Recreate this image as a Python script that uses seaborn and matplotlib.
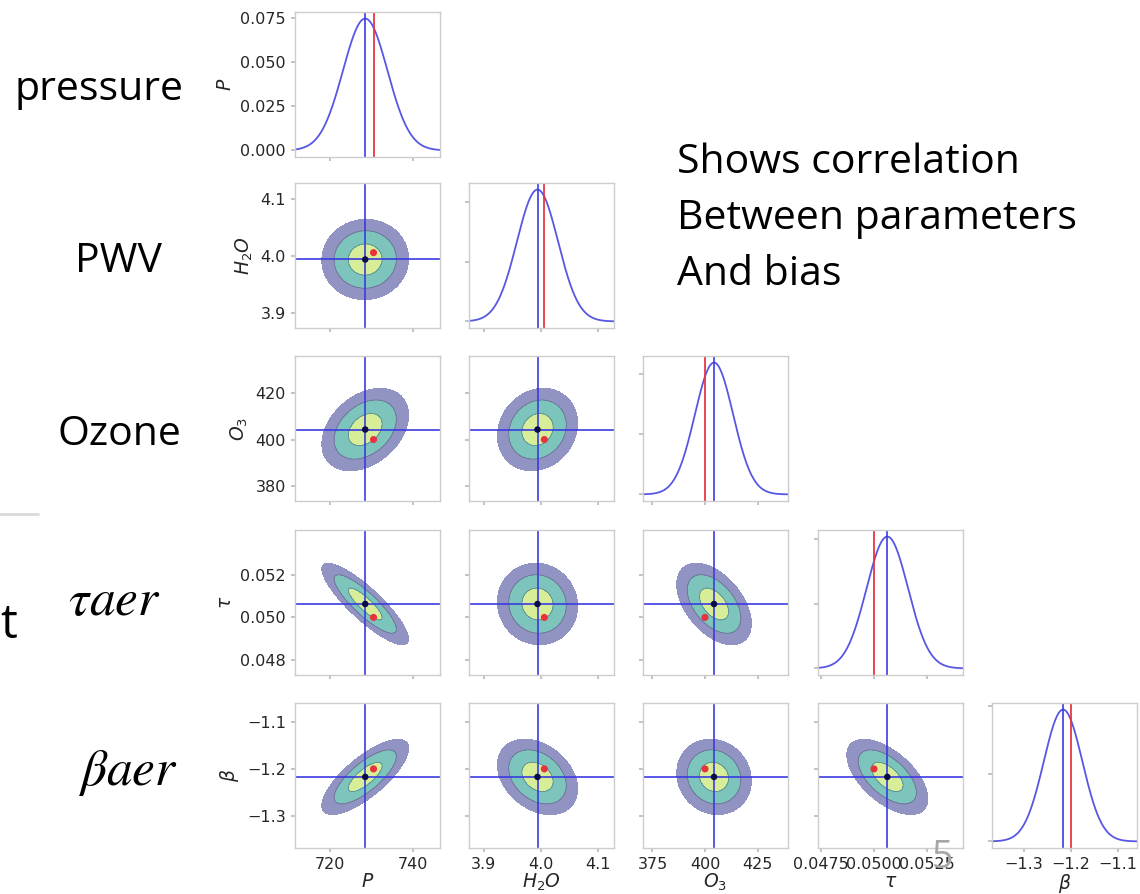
import numpy as np
import matplotlib
matplotlib.use("Agg")
import matplotlib.pyplot as plt
import matplotlib.ticker as mticker
import seaborn as sns

# ---------------- data ----------------
axis_labels = ["$P$", "$H_2O$", "$O_3$", "$\\tau$", "$\\beta$"]
row_names = ["pressure", "PWV", "Ozone", "$\\tau aer$", "$\\beta aer$"]
estimate = [728.5, 3.994, 404.3, 0.05063, -1.217]   # blue lines (posterior mean)
truth = [730.5, 4.006, 400.0, 0.0500, -1.200]        # red lines / dots
sigma = [5.35, 0.036, 9.1, 0.00098, 0.041]
corr = [
    [1.00, 0.02, 0.35, -0.86, 0.76],
    [0.02, 1.00, 0.15, -0.05, -0.32],
    [0.35, 0.15, 1.00, -0.48, -0.10],
    [-0.86, -0.05, -0.48, 1.00, -0.58],
    [0.76, -0.32, -0.10, -0.58, 1.00],
]
xlims = [(711.6, 746.5), (3.874, 4.128), (370.5, 439.5), (0.04736, 0.0542), (-1.368, -1.06)]
ylims = [None, (3.874, 4.128), (373.5, 436.0), (0.0473, 0.0541), (-1.368, -1.06)]
xticks = [[720, 740], [3.9, 4.0, 4.1], [375, 400, 425], [0.0475, 0.0500, 0.0525], [-1.3, -1.2, -1.1]]
yticks = [[0.0, 0.025, 0.050, 0.075], [3.9, 4.0, 4.1], [380, 400, 420], [0.048, 0.050, 0.052], [-1.3, -1.2, -1.1]]
xfmt = ["%d", "%.1f", "%d", "%.4f", "%.1f"]
yfmt = ["%.3f", "%.1f", "%d", "%.3f", "%.1f"]
side_lines = ["Shows correlation", "Between parameters", "And bias"]
contour_radii = [0.76, 1.4, 1.95]   # Mahalanobis radii of the three filled regions

# ---------------- style ----------------
sns.set_theme(style="white")
plt.rcParams.update({
    "axes.edgecolor": "#cccccc",
    "axes.linewidth": 1.0,
    "xtick.bottom": True,
    "ytick.left": True,
    "xtick.color": "#bbbbbb",
    "ytick.color": "#bbbbbb",
    "xtick.labelcolor": "#262626",
    "ytick.labelcolor": "#262626",
    "xtick.major.size": 3,
    "ytick.major.size": 3,
    "xtick.labelsize": 11.5,
    "ytick.labelsize": 11.5,
    "axes.labelsize": 13.5,
    "mathtext.fontset": "dejavusans",
})


def fmt_minus(f):
    return mticker.FuncFormatter(lambda v, pos: (f % v).replace("-", "\u2212"))


W, H = 1140, 894
fig = plt.figure(figsize=(W / 100, H / 100), dpi=100)
fig.patch.set_facecolor("white")

col_left = [295, 469, 643, 818, 992]
row_top = [12, 183, 356, 530, 703]
size = 145

c_outer, c_mid, c_inner = "#9194c3", "#7cc4bc", "#d8ed98"
blue = "#3a3ae0"
red = "#e8323c"

n = 5
for i in range(n):
    for j in range(i + 1):
        ax = fig.add_axes([col_left[j] / W, 1 - (row_top[i] + size) / H, size / W, size / H])
        if i == j:
            grid = np.linspace(xlims[j][0], xlims[j][1], 400)
            pdf = np.exp(-0.5 * ((grid - estimate[j]) / sigma[j]) ** 2) / (sigma[j] * np.sqrt(2 * np.pi))
            sns.lineplot(x=grid, y=pdf, ax=ax, color=blue, lw=1.3, alpha=0.85)
            ax.axvline(truth[j], color=red, lw=1.4, alpha=0.9)
            ax.axvline(estimate[j], color=blue, lw=1.4, alpha=0.85)
            ax.set_xlim(xlims[j])
            pk = pdf.max()
            ax.set_ylim(-0.05 * pk, 1.05 * pk)
            if j == 0:
                ax.set_yticks(yticks[0])
                ax.yaxis.set_major_formatter(fmt_minus(yfmt[0]))
        else:
            gx = np.linspace(xlims[j][0], xlims[j][1], 250)
            gy = np.linspace(ylims[i][0], ylims[i][1], 250)
            X, Y = np.meshgrid(gx, gy)
            r = corr[i][j]
            dx = (X - estimate[j]) / sigma[j]
            dy = (Y - estimate[i]) / sigma[i]
            D2 = (dx ** 2 - 2 * r * dx * dy + dy ** 2) / (1 - r ** 2)
            lv = [0] + [rr ** 2 for rr in contour_radii]
            ax.contourf(X, Y, D2, levels=lv, colors=[c_inner, c_mid, c_outer])
            ax.contour(X, Y, D2, levels=lv[1:3], colors=["#2f4f4f"], linewidths=0.6, alpha=0.45)
            ax.axvline(estimate[j], color=blue, lw=1.4, alpha=0.85)
            ax.axhline(estimate[i], color=blue, lw=1.4, alpha=0.85)
            sns.scatterplot(x=[estimate[j]], y=[estimate[i]], ax=ax, color="#0b0b4a", s=22,
                            edgecolor="none", zorder=5)
            sns.scatterplot(x=[truth[j]], y=[truth[i]], ax=ax, color=red, s=26,
                            edgecolor="none", zorder=6)
            ax.set_xlim(xlims[j])
            ax.set_ylim(ylims[i])
            ax.set_yticks(yticks[i])
            ax.yaxis.set_major_formatter(fmt_minus(yfmt[i]))
        ax.set_xticks(xticks[j])
        ax.xaxis.set_major_formatter(fmt_minus(xfmt[j]))
        ax.set_xlabel("")
        ax.set_ylabel("")
        if i == n - 1:
            ax.set_xlabel(axis_labels[j], labelpad=0)
        else:
            ax.tick_params(axis="x", labelbottom=False)
        if j == 0:
            ax.set_ylabel(axis_labels[i], labelpad=4)
        else:
            ax.tick_params(axis="y", labelleft=False)
        for s in ax.spines.values():
            s.set_visible(True)
            s.set_color("#cccccc")


def fx(x):
    return x / W


def fy(y):
    return 1 - y / H


# left-hand parameter names
name_pos = [(14, 100), (75, 272), (57, 445), (68, 615), (78, 785)]
for name, (x, y) in zip(row_names, name_pos):
    if name.startswith("$"):
        fig.text(fx(x), fy(y), name, fontsize=37, va="baseline", ha="left",
                 color="black", math_fontfamily="stix")
    else:
        fig.text(fx(x), fy(y), name, fontsize=29.5, va="baseline", ha="left",
                 color="black", family=["Open Sans", "DejaVu Sans"])

# cut-off slide text and divider on the left
fig.text(fx(0), fy(638), "t", fontsize=34, va="baseline", ha="left", color="black",
         family=["Open Sans", "DejaVu Sans"])
fig.add_artist(plt.Line2D([0, fx(38)], [fy(514), fy(514)], color="#d9d9d9", lw=2))

# side annotation
for k, line in enumerate(side_lines):
    fig.text(fx(677), fy(173 + 56 * k), line, fontsize=29.5, va="baseline", ha="left",
             color="black", family=["Open Sans", "DejaVu Sans"])

# slide number
fig.text(fx(932), fy(868), "5", fontsize=27, va="baseline", ha="left", color="#a6a6a6",
         family=["Open Sans", "DejaVu Sans"])

fig.savefig("out.png", dpi=100, facecolor="white")
